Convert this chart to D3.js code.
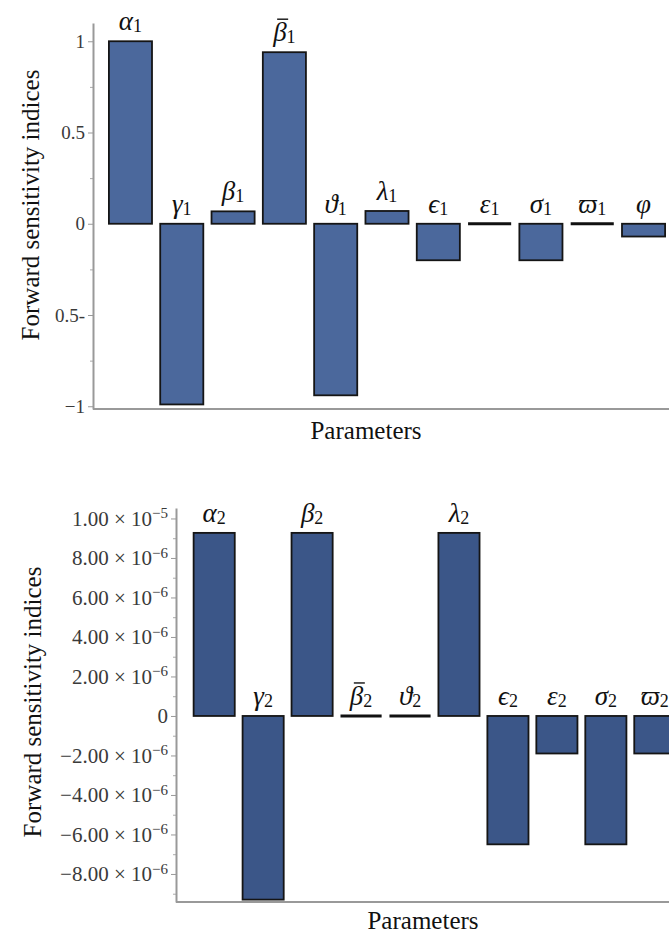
<!DOCTYPE html>
<html>
  <head>
    <meta charset="utf-8">
    <style>
      body { margin: 0; background: #fff; }
      svg { display: block; }
    </style>
  </head>
  <body>
    <div id="main-viz"></div>
    <script src="https://d3js.org/d3.v7.min.js"></script>
    <script>
      // top chart (index 1)
      var topParams = ["α", "γ", "β", "β", "ϑ", "λ", "ϵ", "ε", "σ", "ϖ", "φ"];
      var topBar = [false, false, false, true, false, false, false, false, false, false, false];
      var topSubs = ["1", "1", "1", "1", "1", "1", "1", "1", "1", "1", ""];
      var topValues = [1, -0.99, 0.068, 0.94, -0.94, 0.07, -0.2, 0, -0.2, 0, -0.07];
      var topTicks = [1, 0.5, 0, -0.5, -1];
      var topTickLabels = ["1", "0.5", "0", "0.5-", "\u22121"];
      var topMinor = [0.75, 0.25, -0.25, -0.75];

      // bottom chart (index 2)
      var botParams = ["α", "γ", "β", "β", "ϑ", "λ", "ϵ", "ε", "σ", "ϖ"];
      var botBar = [false, false, false, true, false, false, false, false, false, false];
      var botSubs = ["2", "2", "2", "2", "2", "2", "2", "2", "2", "2"];
      var botValues = [9.27e-6, -9.3e-6, 9.27e-6, 0, 0, 9.27e-6, -6.5e-6, -1.9e-6, -6.5e-6, -1.9e-6];
      var botTicks = [1e-5, 8e-6, 6e-6, 4e-6, 2e-6, 0, -2e-6, -4e-6, -6e-6, -8e-6];
      var botMantissa = ["1.00", "8.00", "6.00", "4.00", "2.00", "0", "\u22122.00", "\u22124.00", "\u22126.00", "\u22128.00"];
      var botExponent = ["\u22125", "\u22126", "\u22126", "\u22126", "\u22126", "", "\u22126", "\u22126", "\u22126", "\u22126"];
      var botMinor = [9e-6, 7e-6, 5e-6, 3e-6, 1e-6, -1e-6, -3e-6, -5e-6, -7e-6, -9e-6];

      var W = 669, H = 934;
      var SERIF = "'Liberation Serif', 'DejaVu Serif', serif";

      var svg = d3.select("#main-viz")
        .append("svg")
          .attr("width", W)
          .attr("height", H)
          .attr("font-family", SERIF);

      function drawChart(cfg) {
        var g = svg.append("g");

        var x = d3.scaleBand()
          .domain(d3.range(cfg.params.length))
          .range([cfg.x0, cfg.x1])
          .paddingInner(cfg.padIn)
          .paddingOuter(cfg.padOut);

        var y = d3.scaleLinear()
          .domain(cfg.yDomain)
          .range([cfg.yBottom, cfg.yTop]);

        // minor ticks
        g.append("g")
          .attr("transform", "translate(" + cfg.x0 + ",0)")
          .call(d3.axisLeft(y).tickValues(cfg.minor).tickSizeInner(3).tickSizeOuter(0).tickFormat(""))
          .call(function (a) {
            a.select(".domain").remove();
            a.selectAll("line").attr("stroke", "#aaa");
          });

        // major ticks + labels
        var yAxis = g.append("g")
          .attr("transform", "translate(" + cfg.x0 + ",0)")
          .call(d3.axisLeft(y).tickValues(cfg.ticks).tickSizeInner(5).tickSizeOuter(0).tickPadding(3))
          .attr("font-family", SERIF)
          .attr("font-size", cfg.tickFont)
          .call(function (a) {
            a.select(".domain").attr("stroke", "#999").attr("stroke-width", 2);
            a.selectAll("line").attr("stroke", "#999");
          });

        yAxis.selectAll(".tick text")
          .attr("fill", "#3a3a3a")
          .each(function (d, i) {
            var t = d3.select(this).text("");
            t.append("tspan").text(cfg.tickLabels[i]);
            if (cfg.tickExp && cfg.tickExp[i]) {
              t.append("tspan").text(" \u00d7 10");
              t.append("tspan")
                .attr("dy", "-0.5em")
                .attr("font-size", 15)
                .text(cfg.tickExp[i]);
            }
          });

        // x axis line
        g.append("line")
          .attr("x1", cfg.x0).attr("x2", W)
          .attr("y1", cfg.yBottom).attr("y2", cfg.yBottom)
          .attr("stroke", "#999")
          .attr("stroke-width", 2);

        var data = cfg.values.map(function (v, i) { return { i: i, v: v }; });

        // bars
        g.selectAll("rect.bar")
          .data(data.filter(function (d) { return d.v !== 0; }))
          .enter()
          .append("rect")
            .attr("class", "bar")
            .attr("x", function (d) { return x(d.i); })
            .attr("width", x.bandwidth())
            .attr("y", function (d) { return Math.min(y(d.v), y(0)); })
            .attr("height", function (d) { return Math.abs(y(d.v) - y(0)); })
            .attr("fill", cfg.color)
            .attr("stroke", "#151515")
            .attr("stroke-width", 1.8);

        // zero-valued bars are drawn as flat black lines
        g.selectAll("line.zero")
          .data(data.filter(function (d) { return d.v === 0; }))
          .enter()
          .append("line")
            .attr("class", "zero")
            .attr("x1", function (d) { return x(d.i); })
            .attr("x2", function (d) { return x(d.i) + x.bandwidth(); })
            .attr("y1", y(0)).attr("y2", y(0))
            .attr("stroke", "#111")
            .attr("stroke-width", 3);

        // parameter labels
        var lab = g.selectAll("text.param")
          .data(data)
          .enter()
          .append("text")
            .attr("class", "param")
            .attr("x", function (d) { return x(d.i) + x.bandwidth() / 2; })
            .attr("y", function (d) { return Math.min(y(d.v), y(0)) - 11; })
            .attr("text-anchor", "middle")
            .attr("fill", "#111")
            .attr("font-size", 27);

        lab.append("tspan")
          .attr("font-style", "italic")
          .text(function (d) { return cfg.params[d.i]; });
        lab.append("tspan")
          .attr("dy", "0.1em")
          .attr("font-size", 18)
          .text(function (d) { return cfg.subs[d.i]; });

        // bar over beta
        lab.filter(function (d) { return cfg.bar[d.i]; })
          .each(function (d) {
            var bb = this.getBBox();
            var ly = Math.min(y(d.v), y(0)) - 11;
            g.append("line")
              .attr("x1", bb.x + 5).attr("x2", bb.x + 16)
              .attr("y1", ly - 22).attr("y2", ly - 22)
              .attr("stroke", "#111")
              .attr("stroke-width", 1.4);
          });

        // axis titles
        g.append("text")
          .attr("transform", "translate(" + cfg.yTitleX + "," + cfg.yTitleY + ") rotate(-90)")
          .attr("text-anchor", "middle")
          .attr("fill", "#111")
          .attr("font-size", 25)
          .text("Forward sensitivity indices");

        g.append("text")
          .attr("x", cfg.xTitleX)
          .attr("y", cfg.xTitleY)
          .attr("text-anchor", "middle")
          .attr("fill", "#111")
          .attr("font-size", 25)
          .text("Parameters");
      }

      drawChart({
        params: topParams, bar: topBar, subs: topSubs, values: topValues,
        ticks: topTicks, tickLabels: topTickLabels, minor: topMinor, tickFont: 19,
        x0: 93, x1: 681, padIn: 0.16, padOut: 0.31,
        yDomain: [-1.015, 1.1], yBottom: 409, yTop: 23,
        color: "#4b689c",
        yTitleX: 39, yTitleY: 205, xTitleX: 366, xTitleY: 439
      });

      drawChart({
        params: botParams, bar: botBar, subs: botSubs, values: botValues,
        ticks: botTicks, tickLabels: botMantissa, tickExp: botExponent, minor: botMinor, tickFont: 21,
        x0: 176, x1: 693, padIn: 0.16, padOut: 0.36,
        yDomain: [-9.42e-6, 10.53e-6], yBottom: 902, yTop: 508,
        color: "#3b5688",
        yTitleX: 41, yTitleY: 702, xTitleX: 423, xTitleY: 929
      });
    </script>
  </body>
</html>
